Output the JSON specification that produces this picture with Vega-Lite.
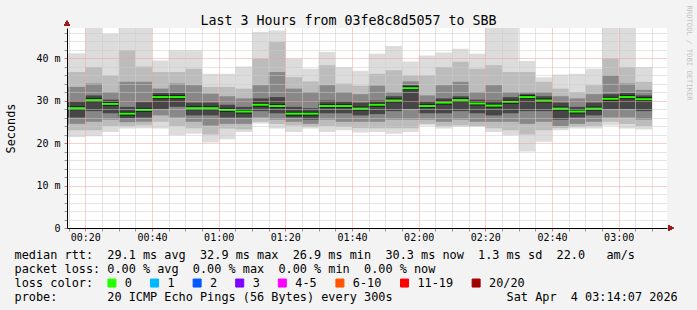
{
  "$schema": "https://vega.github.io/schema/vega-lite/v6.json",
  "width": 600,
  "height": 200,
  "autosize": {"type": "none"},
  "padding": {"left": 67, "top": 28, "right": 30, "bottom": 82},
  "background": "#f3f3f3",
  "title": {
    "text": [
      "median rtt:\u00a0\u00a029.1 ms avg\u00a0\u00a032.9 ms max\u00a0\u00a026.9 ms min\u00a0\u00a030.3 ms now\u00a0\u00a01.3 ms sd\u00a0\u00a022.0\u00a0\u00a0\u00a0am/s",
      "packet loss: 0.00 % avg\u00a0\u00a00.00 % max\u00a0\u00a00.00 % min\u00a0\u00a00.00 % now",
      "loss color:",
      "probe:\u00a0\u00a0\u00a0\u00a0\u00a0\u00a0\u00a020 ICMP Echo Pings (56 Bytes) every 300s\u00a0\u00a0\u00a0\u00a0\u00a0\u00a0\u00a0\u00a0\u00a0\u00a0\u00a0\u00a0\u00a0\u00a0\u00a0\u00a0Sat Apr\u00a0\u00a04 03:14:07 2026"
    ],
    "orient": "bottom", "anchor": "start", "frame": "group", "align": "left", "dx": -52.4, "offset": -31,
    "baseline": "alphabetic", "lineHeight": 14, "font": "DejaVu Sans Mono", "fontSize": 11.85, "fontWeight": "normal", "color": "#000000"
  },
  "config": {
    "view": {"fill": "#ffffff", "stroke": null},
    "font": "DejaVu Sans Mono",
    "axis": {"labelFont": "DejaVu Sans Mono", "titleFont": "DejaVu Sans Mono", "labelColor": "#000000", "titleColor": "#000000", "titleFontWeight": "normal", "domainColor": "#000000"}
  },
  "data": {"values": [
    {"t": "2026-04-04T00:14:30", "t2": "2026-04-04T00:20:00", "med": 28.2, "mx": 41.1, "h1": 36.7, "h2": 33.2, "h3": 29.8, "l3": 26.0, "l2": 24.5, "l1": 23.0, "mn": 21.4, "loss": "0"},
    {"t": "2026-04-04T00:20:00", "t2": "2026-04-04T00:25:00", "med": 30.1, "mx": 47.3, "h1": 37.9, "h2": 34.0, "h3": 31.2, "l3": 27.5, "l2": 25.0, "l1": 23.0, "mn": 21.6, "loss": "0"},
    {"t": "2026-04-04T00:25:00", "t2": "2026-04-04T00:30:00", "med": 29.2, "mx": 45.7, "h1": 35.9, "h2": 32.0, "h3": 30.2, "l3": 27.0, "l2": 25.5, "l1": 24.0, "mn": 22.6, "loss": "0"},
    {"t": "2026-04-04T00:30:00", "t2": "2026-04-04T00:35:00", "med": 26.9, "mx": 47.1, "h1": 41.8, "h2": 34.4, "h3": 28.5, "l3": 25.8, "l2": 24.9, "l1": 24.0, "mn": 23.4, "loss": "0"},
    {"t": "2026-04-04T00:35:00", "t2": "2026-04-04T00:40:00", "med": 27.8, "mx": 47.1, "h1": 38.0, "h2": 34.4, "h3": 29.6, "l3": 26.0, "l2": 25.0, "l1": 24.2, "mn": 23.5, "loss": "0"},
    {"t": "2026-04-04T00:40:00", "t2": "2026-04-04T00:45:00", "med": 30.8, "mx": 39.4, "h1": 36.7, "h2": 32.8, "h3": 31.8, "l3": 28.0, "l2": 26.5, "l1": 25.0, "mn": 23.4, "loss": "0"},
    {"t": "2026-04-04T00:45:00", "t2": "2026-04-04T00:50:00", "med": 30.8, "mx": 41.8, "h1": 36.7, "h2": 34.0, "h3": 31.8, "l3": 28.5, "l2": 26.0, "l1": 24.0, "mn": 21.8, "loss": "0"},
    {"t": "2026-04-04T00:50:00", "t2": "2026-04-04T00:55:00", "med": 28.2, "mx": 41.8, "h1": 37.5, "h2": 33.6, "h3": 29.5, "l3": 26.5, "l2": 25.0, "l1": 23.5, "mn": 22.2, "loss": "0"},
    {"t": "2026-04-04T00:55:00", "t2": "2026-04-04T01:00:00", "med": 28.2, "mx": 36.3, "h1": 33.2, "h2": 31.6, "h3": 29.5, "l3": 26.5, "l2": 24.1, "l1": 22.0, "mn": 20.1, "loss": "0"},
    {"t": "2026-04-04T01:00:00", "t2": "2026-04-04T01:05:00", "med": 27.8, "mx": 36.3, "h1": 33.2, "h2": 31.0, "h3": 29.0, "l3": 26.0, "l2": 24.5, "l1": 23.4, "mn": 20.9, "loss": "0"},
    {"t": "2026-04-04T01:05:00", "t2": "2026-04-04T01:10:00", "med": 27.4, "mx": 38.0, "h1": 32.8, "h2": 30.5, "h3": 28.5, "l3": 26.0, "l2": 24.5, "l1": 23.2, "mn": 22.6, "loss": "0"},
    {"t": "2026-04-04T01:10:00", "t2": "2026-04-04T01:15:00", "med": 29.0, "mx": 46.1, "h1": 39.8, "h2": 33.6, "h3": 30.5, "l3": 27.5, "l2": 26.0, "l1": 25.0, "mn": 24.6, "loss": "0"},
    {"t": "2026-04-04T01:15:00", "t2": "2026-04-04T01:20:00", "med": 28.7, "mx": 46.5, "h1": 43.8, "h2": 36.7, "h3": 30.8, "l3": 27.0, "l2": 25.5, "l1": 24.5, "mn": 23.4, "loss": "0"},
    {"t": "2026-04-04T01:20:00", "t2": "2026-04-04T01:25:00", "med": 26.9, "mx": 39.8, "h1": 35.5, "h2": 32.8, "h3": 28.5, "l3": 26.0, "l2": 25.0, "l1": 24.1, "mn": 22.6, "loss": "0"},
    {"t": "2026-04-04T01:25:00", "t2": "2026-04-04T01:30:00", "med": 26.9, "mx": 37.5, "h1": 34.5, "h2": 32.0, "h3": 28.2, "l3": 25.5, "l2": 24.5, "l1": 23.8, "mn": 23.4, "loss": "0"},
    {"t": "2026-04-04T01:30:00", "t2": "2026-04-04T01:35:00", "med": 28.7, "mx": 41.4, "h1": 38.3, "h2": 33.6, "h3": 30.0, "l3": 27.0, "l2": 25.5, "l1": 24.0, "mn": 22.6, "loss": "0"},
    {"t": "2026-04-04T01:35:00", "t2": "2026-04-04T01:40:00", "med": 28.7, "mx": 37.9, "h1": 34.0, "h2": 32.0, "h3": 29.8, "l3": 27.0, "l2": 25.0, "l1": 23.8, "mn": 23.0, "loss": "0"},
    {"t": "2026-04-04T01:40:00", "t2": "2026-04-04T01:45:00", "med": 28.1, "mx": 37.0, "h1": 33.5, "h2": 31.5, "h3": 29.5, "l3": 26.5, "l2": 25.0, "l1": 23.5, "mn": 22.5, "loss": "0"},
    {"t": "2026-04-04T01:45:00", "t2": "2026-04-04T01:50:00", "med": 29.0, "mx": 41.0, "h1": 36.3, "h2": 33.5, "h3": 30.0, "l3": 26.8, "l2": 25.0, "l1": 23.5, "mn": 22.6, "loss": "0"},
    {"t": "2026-04-04T01:50:00", "t2": "2026-04-04T01:55:00", "med": 30.0, "mx": 42.8, "h1": 37.1, "h2": 32.0, "h3": 31.0, "l3": 27.5, "l2": 25.5, "l1": 23.5, "mn": 22.2, "loss": "0"},
    {"t": "2026-04-04T01:55:00", "t2": "2026-04-04T02:00:00", "med": 32.9, "mx": 39.2, "h1": 35.9, "h2": 34.5, "h3": 33.6, "l3": 28.0, "l2": 25.5, "l1": 23.5, "mn": 22.6, "loss": "0"},
    {"t": "2026-04-04T02:00:00", "t2": "2026-04-04T02:05:00", "med": 28.7, "mx": 40.6, "h1": 35.9, "h2": 31.2, "h3": 29.8, "l3": 27.0, "l2": 25.5, "l1": 24.5, "mn": 24.1, "loss": "0"},
    {"t": "2026-04-04T02:05:00", "t2": "2026-04-04T02:10:00", "med": 29.5, "mx": 41.3, "h1": 37.9, "h2": 33.6, "h3": 30.5, "l3": 27.0, "l2": 25.0, "l1": 24.0, "mn": 23.4, "loss": "0"},
    {"t": "2026-04-04T02:10:00", "t2": "2026-04-04T02:15:00", "med": 30.1, "mx": 42.2, "h1": 39.1, "h2": 34.4, "h3": 31.0, "l3": 27.5, "l2": 25.5, "l1": 24.2, "mn": 23.8, "loss": "0"},
    {"t": "2026-04-04T02:15:00", "t2": "2026-04-04T02:20:00", "med": 29.3, "mx": 41.0, "h1": 37.5, "h2": 32.0, "h3": 30.2, "l3": 27.0, "l2": 25.0, "l1": 24.0, "mn": 23.8, "loss": "0"},
    {"t": "2026-04-04T02:20:00", "t2": "2026-04-04T02:25:00", "med": 28.8, "mx": 47.3, "h1": 38.3, "h2": 33.6, "h3": 30.0, "l3": 26.5, "l2": 25.0, "l1": 23.5, "mn": 22.6, "loss": "0"},
    {"t": "2026-04-04T02:25:00", "t2": "2026-04-04T02:30:00", "med": 29.7, "mx": 47.3, "h1": 36.7, "h2": 32.0, "h3": 30.8, "l3": 27.0, "l2": 25.0, "l1": 23.0, "mn": 21.8, "loss": "0"},
    {"t": "2026-04-04T02:30:00", "t2": "2026-04-04T02:35:00", "med": 30.8, "mx": 39.3, "h1": 36.7, "h2": 32.0, "h3": 31.5, "l3": 27.5, "l2": 24.5, "l1": 22.0, "mn": 18.0, "loss": "0"},
    {"t": "2026-04-04T02:35:00", "t2": "2026-04-04T02:40:00", "med": 30.0, "mx": 35.5, "h1": 34.4, "h2": 32.0, "h3": 31.0, "l3": 27.5, "l2": 25.0, "l1": 23.0, "mn": 20.3, "loss": "0"},
    {"t": "2026-04-04T02:40:00", "t2": "2026-04-04T02:45:00", "med": 28.1, "mx": 36.1, "h1": 32.8, "h2": 31.0, "h3": 29.5, "l3": 25.5, "l2": 24.0, "l1": 23.5, "mn": 23.0, "loss": "0"},
    {"t": "2026-04-04T02:45:00", "t2": "2026-04-04T02:50:00", "med": 27.4, "mx": 36.3, "h1": 32.0, "h2": 30.5, "h3": 28.5, "l3": 26.0, "l2": 24.5, "l1": 23.8, "mn": 23.4, "loss": "0"},
    {"t": "2026-04-04T02:50:00", "t2": "2026-04-04T02:55:00", "med": 28.1, "mx": 37.5, "h1": 33.6, "h2": 31.5, "h3": 29.5, "l3": 26.5, "l2": 25.0, "l1": 24.0, "mn": 23.4, "loss": "0"},
    {"t": "2026-04-04T02:55:00", "t2": "2026-04-04T03:00:00", "med": 30.4, "mx": 47.1, "h1": 39.8, "h2": 35.9, "h3": 31.5, "l3": 28.0, "l2": 26.0, "l1": 25.0, "mn": 24.1, "loss": "0"},
    {"t": "2026-04-04T03:00:00", "t2": "2026-04-04T03:05:00", "med": 30.8, "mx": 47.1, "h1": 37.9, "h2": 34.0, "h3": 31.8, "l3": 28.0, "l2": 26.0, "l1": 24.5, "mn": 23.4, "loss": "0"},
    {"t": "2026-04-04T03:05:00", "t2": "2026-04-04T03:10:00", "med": 30.3, "mx": 37.9, "h1": 34.4, "h2": 32.5, "h3": 31.2, "l3": 27.5, "l2": 25.5, "l1": 24.0, "mn": 23.2, "loss": "0"}
  ]},
  "resolve": {"axis": {"x": "independent", "y": "independent"}},
  "layer": [
    {
      "mark": {"type": "rect", "color": "#dcdcdc", "clip": true},
      "encoding": {
        "x": {"field": "t", "type": "temporal",
          "scale": {"domain": [{"year": 2026, "month": 4, "date": 4, "hours": 0, "minutes": 14, "seconds": 30}, {"year": 2026, "month": 4, "date": 4, "hours": 3, "minutes": 14, "seconds": 30}], "nice": false},
          "axis": {
            "orient": "bottom",
            "values": [
              {"year": 2026, "month": 4, "date": 4, "hours": 0, "minutes": 15}, {"year": 2026, "month": 4, "date": 4, "hours": 0, "minutes": 20}, {"year": 2026, "month": 4, "date": 4, "hours": 0, "minutes": 25}, {"year": 2026, "month": 4, "date": 4, "hours": 0, "minutes": 30},
              {"year": 2026, "month": 4, "date": 4, "hours": 0, "minutes": 35}, {"year": 2026, "month": 4, "date": 4, "hours": 0, "minutes": 40}, {"year": 2026, "month": 4, "date": 4, "hours": 0, "minutes": 45}, {"year": 2026, "month": 4, "date": 4, "hours": 0, "minutes": 50},
              {"year": 2026, "month": 4, "date": 4, "hours": 0, "minutes": 55}, {"year": 2026, "month": 4, "date": 4, "hours": 1, "minutes": 0}, {"year": 2026, "month": 4, "date": 4, "hours": 1, "minutes": 5}, {"year": 2026, "month": 4, "date": 4, "hours": 1, "minutes": 10},
              {"year": 2026, "month": 4, "date": 4, "hours": 1, "minutes": 15}, {"year": 2026, "month": 4, "date": 4, "hours": 1, "minutes": 20}, {"year": 2026, "month": 4, "date": 4, "hours": 1, "minutes": 25}, {"year": 2026, "month": 4, "date": 4, "hours": 1, "minutes": 30},
              {"year": 2026, "month": 4, "date": 4, "hours": 1, "minutes": 35}, {"year": 2026, "month": 4, "date": 4, "hours": 1, "minutes": 40}, {"year": 2026, "month": 4, "date": 4, "hours": 1, "minutes": 45}, {"year": 2026, "month": 4, "date": 4, "hours": 1, "minutes": 50},
              {"year": 2026, "month": 4, "date": 4, "hours": 1, "minutes": 55}, {"year": 2026, "month": 4, "date": 4, "hours": 2, "minutes": 0}, {"year": 2026, "month": 4, "date": 4, "hours": 2, "minutes": 5}, {"year": 2026, "month": 4, "date": 4, "hours": 2, "minutes": 10},
              {"year": 2026, "month": 4, "date": 4, "hours": 2, "minutes": 15}, {"year": 2026, "month": 4, "date": 4, "hours": 2, "minutes": 20}, {"year": 2026, "month": 4, "date": 4, "hours": 2, "minutes": 25}, {"year": 2026, "month": 4, "date": 4, "hours": 2, "minutes": 30},
              {"year": 2026, "month": 4, "date": 4, "hours": 2, "minutes": 35}, {"year": 2026, "month": 4, "date": 4, "hours": 2, "minutes": 40}, {"year": 2026, "month": 4, "date": 4, "hours": 2, "minutes": 45}, {"year": 2026, "month": 4, "date": 4, "hours": 2, "minutes": 50},
              {"year": 2026, "month": 4, "date": 4, "hours": 2, "minutes": 55}, {"year": 2026, "month": 4, "date": 4, "hours": 3, "minutes": 0}, {"year": 2026, "month": 4, "date": 4, "hours": 3, "minutes": 5}, {"year": 2026, "month": 4, "date": 4, "hours": 3, "minutes": 10}
            ],
            "labelExpr": "minutes(datum.value) % 20 === 0 ? timeFormat(datum.value, '%H:%M') : ''",
            "labelFontSize": 10, "labelPadding": 1, "labelOverlap": false, "labelFlush": false, "labelAngle": 0,
            "grid": true, "gridDash": [1, 1], "gridOpacity": 1,
            "gridColor": {"condition": {"test": "minutes(datum.value) % 20 === 0", "value": "#f2a0a0"}, "value": "#cacaca"},
            "tickColor": {"condition": {"test": "minutes(datum.value) % 20 === 0", "value": "#ee6666"}, "value": "#999999"},
            "tickSize": 3, "domainWidth": 1, "title": null, "zindex": 1
          }
        },
        "x2": {"field": "t2"},
        "y": {"field": "mn", "type": "quantitative",
          "scale": {"domain": [0, 47.06], "nice": false},
          "axis": {
            "orient": "left",
            "values": [0, 2, 4, 6, 8, 10, 12, 14, 16, 18, 20, 22, 24, 26, 28, 30, 32, 34, 36, 38, 40, 42, 44, 46],
            "labelExpr": "datum.value === 0 ? '0' : (datum.value % 10 === 0 ? datum.value + ' m' : '')",
            "labelFontSize": 10, "labelPadding": 4, "labelOverlap": false, "tickSize": 3,
            "tickColor": {"condition": {"test": "datum.value % 10 === 0", "value": "#ee6666"}, "value": "#999999"},
            "grid": true, "gridDash": [1, 1], "gridOpacity": 1,
            "gridColor": {"condition": {"test": "datum.value % 10 === 0", "value": "#f2a0a0"}, "value": "#cacaca"},
            "title": "Seconds", "titleFontSize": 11.85, "titleX": -57, "titleY": 100, "titleAngle": -90,
            "titleBaseline": "middle", "titleAlign": "center", "zindex": 1
          }
        },
        "y2": {"field": "mx"}
      }
    },
    {
      "mark": {"type": "rect", "color": "#bcbcbc", "clip": true},
      "encoding": {
        "x": {"field": "t", "type": "temporal", "scale": {"domain": [{"year": 2026, "month": 4, "date": 4, "hours": 0, "minutes": 14, "seconds": 30}, {"year": 2026, "month": 4, "date": 4, "hours": 3, "minutes": 14, "seconds": 30}], "nice": false}, "axis": null},
        "x2": {"field": "t2"},
        "y": {"field": "l1", "type": "quantitative", "scale": {"domain": [0, 47.06], "nice": false}, "axis": null},
        "y2": {"field": "h1"}
      }
    },
    {
      "mark": {"type": "rect", "color": "#888888", "clip": true},
      "encoding": {
        "x": {"field": "t", "type": "temporal", "scale": {"domain": [{"year": 2026, "month": 4, "date": 4, "hours": 0, "minutes": 14, "seconds": 30}, {"year": 2026, "month": 4, "date": 4, "hours": 3, "minutes": 14, "seconds": 30}], "nice": false}, "axis": null},
        "x2": {"field": "t2"},
        "y": {"field": "l2", "type": "quantitative", "scale": {"domain": [0, 47.06], "nice": false}, "axis": null},
        "y2": {"field": "h2"}
      }
    },
    {
      "mark": {"type": "rect", "color": "#464646", "clip": true},
      "encoding": {
        "x": {"field": "t", "type": "temporal", "scale": {"domain": [{"year": 2026, "month": 4, "date": 4, "hours": 0, "minutes": 14, "seconds": 30}, {"year": 2026, "month": 4, "date": 4, "hours": 3, "minutes": 14, "seconds": 30}], "nice": false}, "axis": null},
        "x2": {"field": "t2"},
        "y": {"field": "l3", "type": "quantitative", "scale": {"domain": [0, 47.06], "nice": false}, "axis": null},
        "y2": {"field": "h3"}
      }
    },
    {
      "mark": {"type": "rule", "strokeWidth": 4, "color": "#1c1c1c"},
      "encoding": {
        "x": {"field": "t", "type": "temporal", "scale": {"domain": [{"year": 2026, "month": 4, "date": 4, "hours": 0, "minutes": 14, "seconds": 30}, {"year": 2026, "month": 4, "date": 4, "hours": 3, "minutes": 14, "seconds": 30}], "nice": false}, "axis": null},
        "x2": {"field": "t2"},
        "y": {"field": "med", "type": "quantitative", "scale": {"domain": [0, 47.06], "nice": false}, "axis": null}
      }
    },
    {
      "mark": {"type": "rule", "strokeWidth": 2},
      "encoding": {
        "x": {"field": "t", "type": "temporal", "scale": {"domain": [{"year": 2026, "month": 4, "date": 4, "hours": 0, "minutes": 14, "seconds": 30}, {"year": 2026, "month": 4, "date": 4, "hours": 3, "minutes": 14, "seconds": 30}], "nice": false},
          "axis": {"orient": "top", "labels": false, "ticks": false, "domain": false, "grid": false,
            "title": "Last 3 Hours from 03fe8c8d5057 to SBB", "titleX": 281, "titleY": -4, "titleAlign": "center", "titleBaseline": "alphabetic",
            "titleFontSize": 13.3, "titleColor": "#000000"}},
        "x2": {"field": "t2"},
        "y": {"field": "med", "type": "quantitative", "scale": {"domain": [0, 47.06], "nice": false},
          "axis": {"orient": "right", "labels": false, "ticks": false, "domain": false, "grid": false,
            "title": "RRDTOOL / TOBI OETIKER", "titleAngle": 90, "titleX": 21, "titleY": -23, "titleAlign": "left",
            "titleBaseline": "middle", "titleFontSize": 7.2, "titleColor": "#c4c4c4"}},
        "color": {"field": "loss", "type": "nominal",
          "scale": {"domain": ["0", "1", "2", "3", "4-5", "6-10", "11-19", "20/20"], "range": ["#26ff00", "#00b8ff", "#0059ff", "#7e00ff", "#ff00ff", "#ff5500", "#ff0000", "#a10000"]},
          "legend": {"orient": "none", "legendX": 39, "legendY": 249, "direction": "horizontal", "title": null,
            "symbolType": "square", "symbolSize": 64, "labelFont": "DejaVu Sans Mono", "labelFontSize": 11.85, "labelColor": "#000000",
            "labelOffset": 7, "columnPadding": 15.6, "padding": 0,
            "encode": {"symbols": {"update": {"fill": {"scale": "color", "field": "value"}, "stroke": {"value": "#000000"}, "strokeWidth": {"value": 1}, "opacity": {"value": 1}}}}
          }
        }
      }
    },
    {
      "mark": {"type": "point", "shape": "triangle-up", "filled": true, "color": "#9c1c1c", "size": 30, "opacity": 1, "clip": false},
      "encoding": {
        "x": {"datum": {"year": 2026, "month": 4, "date": 4, "hours": 0, "minutes": 14, "seconds": 30}, "type": "temporal", "scale": {"domain": [{"year": 2026, "month": 4, "date": 4, "hours": 0, "minutes": 14, "seconds": 30}, {"year": 2026, "month": 4, "date": 4, "hours": 3, "minutes": 14, "seconds": 30}], "nice": false}, "axis": null},
        "y": {"datum": 48.2, "type": "quantitative", "scale": {"domain": [0, 47.06], "nice": false}, "axis": null}
      }
    },
    {
      "mark": {"type": "point", "shape": "triangle-right", "filled": true, "color": "#9c1c1c", "size": 30, "opacity": 1, "clip": false},
      "encoding": {
        "x": {"datum": {"year": 2026, "month": 4, "date": 4, "hours": 3, "minutes": 15, "seconds": 42}, "type": "temporal", "scale": {"domain": [{"year": 2026, "month": 4, "date": 4, "hours": 0, "minutes": 14, "seconds": 30}, {"year": 2026, "month": 4, "date": 4, "hours": 3, "minutes": 14, "seconds": 30}], "nice": false}, "axis": null},
        "y": {"datum": 0, "type": "quantitative", "scale": {"domain": [0, 47.06], "nice": false}, "axis": null}
      }
    }
  ]
}
